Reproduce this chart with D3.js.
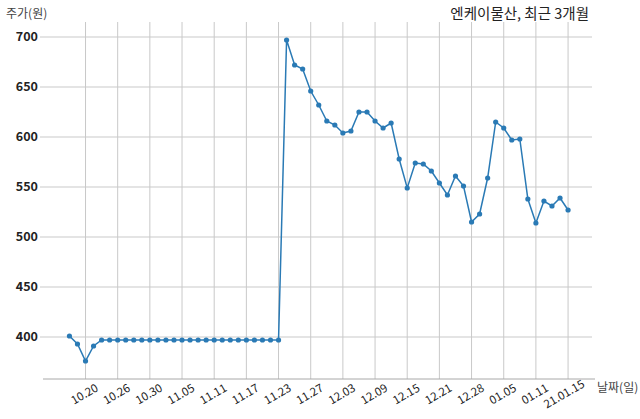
<!DOCTYPE html>
<html>
<head>
<meta charset="utf-8">
<script src="https://cdn.jsdelivr.net/npm/d3@7"></script>
<style>
body { margin: 0; background: #fff; }
text { font-family: "Noto Sans CJK KR", "Noto Sans", sans-serif; fill: #222; }
</style>
</head>
<body>
<svg></svg>
<script>
var screen = {width: 640, height: 419};

// trading days, 2020.10.16 ~ 2021.01.15
var dates = ["10.16", "10.19", "10.20", "10.21", "10.22", "10.23", "10.26", "10.27", "10.28", "10.29", "10.30",
    "11.02", "11.03", "11.04", "11.05", "11.06", "11.09", "11.10", "11.11", "11.12", "11.13", "11.16", "11.17",
    "11.18", "11.19", "11.20", "11.23", "11.24", "11.25", "11.26", "11.27", "11.30",
    "12.01", "12.02", "12.03", "12.04", "12.07", "12.08", "12.09", "12.10", "12.11", "12.14", "12.15",
    "12.16", "12.17", "12.18", "12.21", "12.22", "12.23", "12.24", "12.28", "12.29", "12.30",
    "01.04", "01.05", "01.06", "01.07", "01.08", "01.11", "01.12", "01.13", "01.14", "01.15"]

var prices = [401, 393, 376, 391, 397, 397, 397, 397, 397, 397, 397,
    397, 397, 397, 397, 397, 397, 397, 397, 397, 397, 397, 397,
    397, 397, 397, 397, 697, 672, 668, 646, 632,
    616, 612, 604, 606, 625, 625, 616, 609, 614, 578, 549,
    574, 573, 566, 554, 542, 561, 551, 515, 523, 559,
    615, 609, 597, 598, 538, 514, 536, 531, 539, 527]

var tickIndex = [2, 6, 10, 14, 18, 22, 26, 30, 34, 38, 42, 46, 50, 54, 58, 62]
var tickLabels = ["10.20", "10.26", "10.30", "11.05", "11.11", "11.17", "11.23", "11.27",
    "12.03", "12.09", "12.15", "12.21", "12.28", "01.05", "01.11", "21.01.15"]
var yTicks = [400, 450, 500, 550, 600, 650, 700]

var svg = d3.select("svg")
    .attr("width", screen.width)
    .attr("height", screen.height)

var xScale = d3.scaleLinear()
    .domain([-3.1, 65.1])
    .range([44.5, 593])

var yScale = d3.scaleLinear()
    .domain([358, 715])
    .range([379, 22])

// grid
svg.append("g").attr("id", "vgrid")
    .selectAll("line")
    .data(tickIndex)
    .enter()
    .append("line")
    .attr("x1", function(d) { return xScale(d) })
    .attr("x2", function(d) { return xScale(d) })
    .attr("y1", yScale.range()[1])
    .attr("y2", yScale.range()[0])
    .attr("stroke", "#c9c9c9")
    .attr("stroke-width", 1)

svg.append("g").attr("id", "hgrid")
    .selectAll("line")
    .data(yTicks)
    .enter()
    .append("line")
    .attr("x1", 40)
    .attr("x2", 592)
    .attr("y1", function(d) { return yScale(d) })
    .attr("y2", function(d) { return yScale(d) })
    .attr("stroke", "#c9c9c9")
    .attr("stroke-width", 1)

// y labels
svg.append("g").attr("id", "yAxis")
    .selectAll("text")
    .data(yTicks)
    .enter()
    .append("text")
    .attr("x", 38)
    .attr("y", function(d) { return yScale(d) })
    .attr("dy", "0.35em")
    .style("text-anchor", "end")
    .style("font-size", "12.5px")
    .style("font-weight", "bold")
    .text(function(d) { return d })

// x axis line
svg.append("line")
    .attr("x1", 43)
    .attr("x2", 595)
    .attr("y1", yScale(358))
    .attr("y2", yScale(358))
    .attr("stroke", "#a8a8a8")
    .attr("stroke-width", 1)

svg.append("g").attr("id", "xAxis")
    .selectAll("text")
    .data(tickIndex)
    .enter()
    .append("text")
    .attr("transform", function(d, i) {
        var off = tickLabels[i].length > 5 ? -4 : -1
        return "translate(" + (xScale(d) + off) + "," + 394 + ") rotate(-30)"
    })
    .attr("dy", "0.35em")
    .style("text-anchor", "middle")
    .style("font-size", "11.5px")
    .text(function(d, i) { return tickLabels[i] })

// price line
var lineGenerator = d3.line()
    .x(function(d, i) { return xScale(i) })
    .y(function(d) { return yScale(d) })

svg.append("path")
    .datum(prices)
    .attr("fill", "none")
    .attr("stroke", "#2a7ab5")
    .attr("stroke-width", 1.5)
    .attr("d", lineGenerator)

svg.append("g").attr("id", "points")
    .selectAll("circle")
    .data(prices)
    .enter()
    .append("circle")
    .attr("cx", function(d, i) { return xScale(i) })
    .attr("cy", function(d) { return yScale(d) })
    .attr("r", 2.6)
    .attr("fill", "#2a7ab5")

// titles
svg.append("text")
    .attr("x", 589)
    .attr("y", 19)
    .style("text-anchor", "end")
    .style("font-size", "14.5px")
    .text("엔케이물산, 최근 3개월")

svg.append("text")
    .attr("x", 6)
    .attr("y", 18)
    .style("font-size", "12px")
    .style("fill", "#444")
    .text("주가(원)")

svg.append("text")
    .attr("x", 597)
    .attr("y", 392)
    .style("font-size", "12px")
    .style("fill", "#444")
    .text("날짜(일)")
</script>
</body>
</html>
